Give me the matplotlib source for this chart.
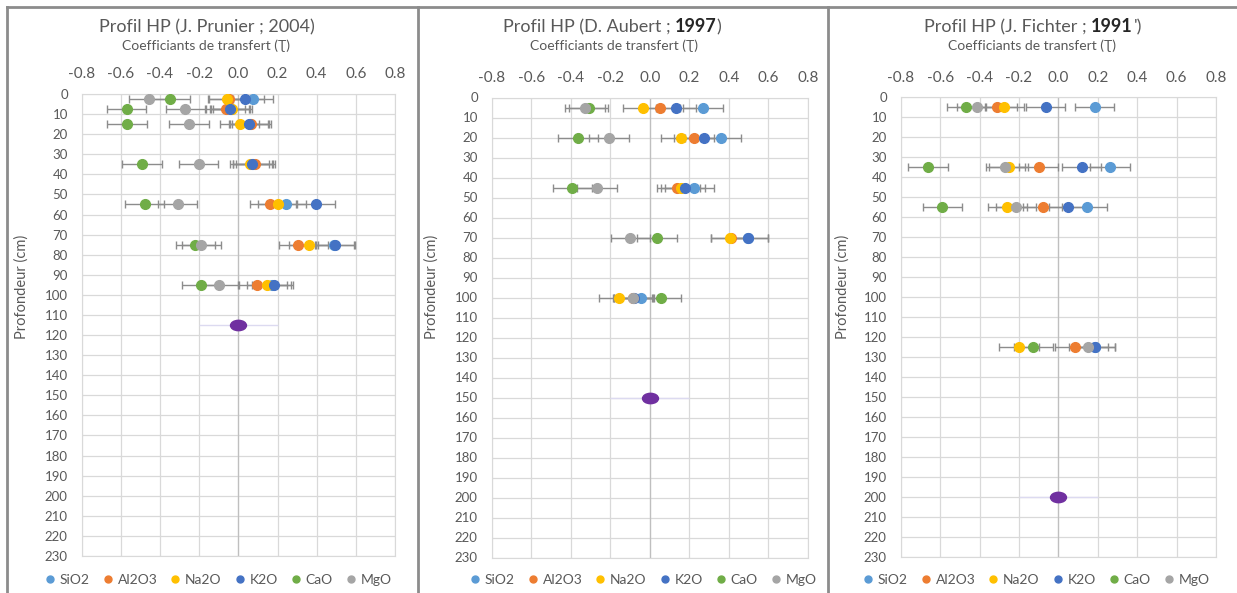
import numpy as np
import matplotlib.pyplot as plt
from matplotlib.path import Path
from matplotlib.lines import Line2D

plt.rcParams['font.family'] = ['Lato', 'DejaVu Sans']

# ---- data ----
oxides = ['SiO2', 'Al2O3', 'Na2O', 'K2O', 'CaO', 'MgO']
colors = ['#5B9BD5', '#ED7D31', '#FFC000', '#4472C4', '#70AD47', '#A5A5A5']

# profil 1 : J. Prunier 2004
depth_p = [2.5, 7.5, 15, 35, 55, 75, 95]
sio2_p = [0.075, -0.040, 0.058, 0.075, 0.245, 0.490, 0.170]
al2o3_p = [-0.050, -0.065, 0.066, 0.087, 0.161, 0.306, 0.097]
na2o_p = [-0.056, -0.031, 0.007, 0.058, 0.202, 0.359, 0.146]
k2o_p = [0.032, -0.044, 0.053, 0.071, 0.396, 0.495, 0.180]
cao_p = [-0.349, -0.571, -0.569, -0.492, -0.478, -0.220, -0.189]
mgo_p = [-0.458, -0.272, -0.252, -0.202, -0.310, -0.189, -0.099]
roche_p = 115

# profil 2 : D. Aubert 1997
depth_a = [5, 20, 45, 70, 100]
sio2_a = [0.271, 0.361, 0.226, 0.500, -0.044]
al2o3_a = [0.054, 0.224, 0.138, 0.410, -0.086]
na2o_a = [-0.034, 0.158, 0.157, 0.408, -0.155]
k2o_a = [0.133, 0.277, 0.179, 0.499, -0.080]
cao_a = [-0.309, -0.363, -0.392, 0.038, 0.057]
mgo_a = [-0.328, -0.206, -0.267, -0.098, -0.083]
roche_a = 150

# profil 3 : J. Fichter 1991
depth_f = [5, 35, 55, 125]
sio2_f = [0.184, 0.262, 0.146, 0.185]
al2o3_f = [-0.310, -0.100, -0.080, 0.083]
na2o_f = [-0.274, -0.252, -0.259, -0.200]
k2o_f = [-0.064, 0.118, 0.051, 0.188]
cao_f = [-0.467, -0.661, -0.589, -0.127]
mgo_f = [-0.413, -0.269, -0.215, 0.152]
roche_f = 200

err = 0.1
xticks = [-0.8, -0.6, -0.4, -0.2, 0.0, 0.2, 0.4, 0.6, 0.8]
yticks = list(range(0, 231, 10))

W, H = 1237, 593
fig = plt.figure(figsize=(W/100, H/100), dpi=100)
grey_txt = '#595959'

def fx(px):
    return px/W

def fy(py):
    return 1 - py/H

# ellipse marker for the parent rock point
circ = Path.unit_circle()
ell = Path(circ.vertices*np.array([1.0, 0.65]), circ.codes)

def panel(box, depth, series, roche):
    l, t, r, b = box
    ax = fig.add_axes([fx(l), fy(b), (r-l)/W, (b-t)/H])
    ax.set_xlim(-0.8, 0.8)
    ax.set_ylim(230, 0)
    ax.set_xticks(xticks)
    ax.set_xticklabels(['%.1f' % v for v in xticks])
    ax.set_yticks(yticks)
    ax.xaxis.tick_top()
    ax.tick_params(length=0, colors=grey_txt)
    ax.tick_params(axis='x', labelsize=11, pad=9)
    ax.tick_params(axis='y', labelsize=9.5, pad=10)
    ax.grid(color='#d9d9d9', lw=0.9)
    ax.set_axisbelow(True)
    for s in ax.spines.values():
        s.set_color('#d9d9d9')
    ax.axvline(0, color='#bfbfbf', lw=0.9, zorder=1)
    for vals, c in zip(series, colors):
        ax.errorbar(vals, depth, xerr=err, fmt='none', ecolor='#8c8c8c',
                    elinewidth=1, capsize=3, capthick=1, zorder=2)
    for vals, c in zip(series, colors):
        ax.plot(vals, depth, 'o', color=c, ms=7, mec=c, zorder=3)
    ax.errorbar([0], [roche], xerr=0.2, fmt='none', ecolor='#dcdaf0', elinewidth=1, zorder=2)
    ax.plot([0], [roche], ls='', marker=ell, ms=11.5, color='#7030A0', zorder=3)
    return ax

panel((81.7, 94, 395, 556), depth_p,
      [sio2_p, al2o3_p, na2o_p, k2o_p, cao_p, mgo_p], roche_p)
panel((491.7, 97.5, 807.7, 557.5), depth_a,
      [sio2_a, al2o3_a, na2o_a, k2o_a, cao_a, mgo_a], roche_a)
panel((900.7, 97.3, 1216, 557), depth_f,
      [sio2_f, al2o3_f, na2o_f, k2o_f, cao_f, mgo_f], roche_f)

# titles (bold year part), subtitles, axis labels, legends
titles = [(207, [('Profil HP (J. Prunier ; 2004)', 'normal', grey_txt, 0)]),
          (612, [('Profil HP (D. Aubert ;', 'normal', grey_txt, 0),
                 ('1997', 'bold', '#262626', 4), (')', 'normal', grey_txt, 0)]),
          (1033, [('Profil HP (J. Fichter ;', 'normal', grey_txt, 0),
                  ('1991', 'bold', '#262626', 4), ("')", 'normal', grey_txt, 1)])]
fig.canvas.draw()
rend = fig.canvas.get_renderer()
for cx, parts in titles:
    txts = [fig.text(0, fy(27), s, fontsize=13, fontweight=w, color=c, va='center')
            for s, w, c, g in parts]
    widths = [tt.get_window_extent(rend).width for tt in txts]
    gaps = [g for s, w, c, g in parts]
    x = cx - (sum(widths) + sum(gaps))/2
    for tt, wd, g in zip(txts, widths, gaps):
        x += g
        tt.set_x(fx(x))
        x += wd

for cx in [206, 614, 1032]:
    fig.text(fx(cx), fy(46), 'Coefficiants de transfert (Ʈ)', fontsize=10,
             color=grey_txt, ha='center', va='center')

for x in [22, 432, 843]:
    fig.text(fx(x), fy(287), 'Profondeur (cm)', fontsize=10.5, color=grey_txt,
             rotation=90, ha='center', va='center')

handles = [Line2D([], [], ls='', marker='o', ms=5, color=c) for c in colors]
for cx in [218, 643, 1036]:
    fig.legend(handles, oxides, loc='center', bbox_to_anchor=(fx(cx), fy(580)),
               ncol=6, frameon=False, fontsize=10, labelcolor=grey_txt,
               handlelength=0.8, handletextpad=0.3, columnspacing=0.9,
               borderpad=0, borderaxespad=0)

# chart frames
frame = dict(color='#8c8c8c', lw=2, transform=fig.transFigure)
fig.add_artist(Line2D([fx(7), fx(W)], [fy(7), fy(7)], **frame))
for x in [7, 418, 828]:
    fig.add_artist(Line2D([fx(x), fx(x)], [fy(7), fy(H)], **frame))

fig.savefig('out.png', dpi=100)
